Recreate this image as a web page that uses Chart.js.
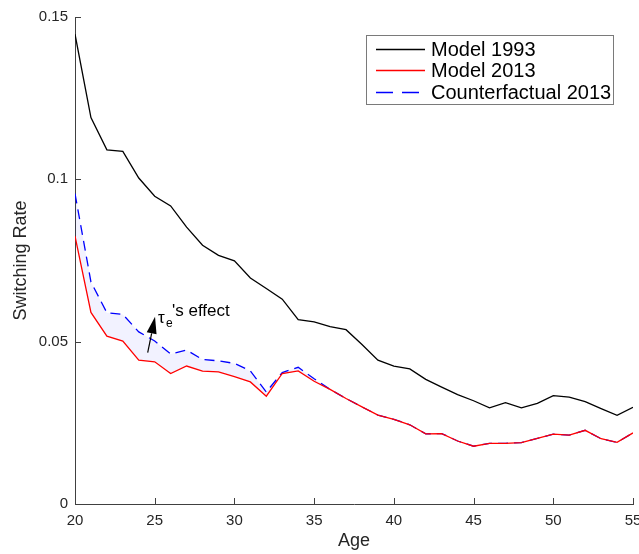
<!DOCTYPE html>
<html>
<head>
<meta charset="utf-8">
<script src="https://cdn.jsdelivr.net/npm/chart.js@4.4.1/dist/chart.umd.min.js"></script>
<style>
  html, body { margin: 0; padding: 0; background: #fff; }
  #wrap { width: 639px; height: 554px; }
</style>
</head>
<body>
<div id="wrap"><canvas id="switching"></canvas></div>
<script>
// ages on the x axis
const ages = [20, 21, 22, 23, 24, 25, 26, 27, 28, 29, 30, 31, 32, 33, 34, 35, 36, 37,
  38, 39, 40, 41, 42, 43, 44, 45, 46, 47, 48, 49, 50, 51, 52, 53, 54, 55];

const model1993 = [0.1447, 0.1190, 0.1091, 0.1086, 0.1004, 0.0948, 0.0918, 0.0853, 0.0797,
  0.0766, 0.0749, 0.0696, 0.0664, 0.0631, 0.0568, 0.0561, 0.0546, 0.0537, 0.0491, 0.0443,
  0.0425, 0.0416, 0.0384, 0.0360, 0.0337, 0.0318, 0.0296, 0.0312, 0.0296, 0.0310, 0.0334,
  0.0329, 0.0315, 0.0294, 0.0273, 0.0298];

const model2013 = [0.0825, 0.0590, 0.0517, 0.0502, 0.0443, 0.0438, 0.0402, 0.0425, 0.0409,
  0.0407, 0.0392, 0.0376, 0.0332, 0.0402, 0.0410, 0.0378, 0.0353, 0.0325, 0.0299, 0.0274,
  0.0261, 0.0244, 0.0216, 0.0217, 0.0194, 0.0178, 0.0187, 0.0187, 0.0189, 0.0202, 0.0215,
  0.0212, 0.0227, 0.0201, 0.0190, 0.0219];

const counterfactual2013 = [0.0956, 0.0684, 0.0589, 0.0584, 0.0530, 0.0502, 0.0462, 0.0474,
  0.0445, 0.0441, 0.0433, 0.0410, 0.0345, 0.0405, 0.0421, 0.0386, 0.0353, 0.0325, 0.0299,
  0.0274, 0.0261, 0.0244, 0.0216, 0.0217, 0.0194, 0.0178, 0.0187, 0.0187, 0.0189, 0.0202,
  0.0215, 0.0212, 0.0227, 0.0201, 0.0190, 0.0219];

const xTicks = [20, 25, 30, 35, 40, 45, 50, 55];
const yTicks = [0, 0.05, 0.1, 0.15];
const yTickLabels = ['0', '0.05', '0.1', '0.15'];

// arrow annotation (tail -> tip) in data units
const arrowFrom = { x: 24.56, y: 0.0466 };
const arrowTo = { x: 25.02, y: 0.0577 };

const FONT = "'Liberation Sans', Arial, sans-serif";
const AXIS_COLOR = '#404040';

function pts(vals) {
  return ages.map((a, i) => ({ x: a, y: vals[i] }));
}

// MATLAB style ticks pointing into the plot
const inwardTicks = {
  id: 'inwardTicks',
  afterDatasetsDraw(chart) {
    const { ctx, chartArea, scales } = chart;
    ctx.save();
    ctx.strokeStyle = AXIS_COLOR;
    ctx.lineWidth = 1;
    ctx.beginPath();
    xTicks.forEach(v => {
      const px = Math.round(scales.x.getPixelForValue(v)) + 0.5;
      ctx.moveTo(px, chartArea.bottom);
      ctx.lineTo(px, chartArea.bottom - 6);
    });
    yTicks.forEach(v => {
      const py = Math.round(scales.y.getPixelForValue(v)) + 0.5;
      ctx.moveTo(chartArea.left, py);
      ctx.lineTo(chartArea.left + 6, py);
    });
    ctx.stroke();
    ctx.restore();
  }
};

// arrow with the tau_e label
const effectArrow = {
  id: 'effectArrow',
  afterDatasetsDraw(chart) {
    const { ctx, scales } = chart;
    const x0 = scales.x.getPixelForValue(arrowFrom.x), y0 = scales.y.getPixelForValue(arrowFrom.y);
    const x1 = scales.x.getPixelForValue(arrowTo.x), y1 = scales.y.getPixelForValue(arrowTo.y);
    const ang = Math.atan2(y1 - y0, x1 - x0);
    const headLen = 17, headW = 5;
    const bx = x1 - headLen * Math.cos(ang), by = y1 - headLen * Math.sin(ang);
    ctx.save();
    ctx.strokeStyle = '#000';
    ctx.fillStyle = '#000';
    ctx.lineWidth = 1.2;
    ctx.beginPath();
    ctx.moveTo(x0, y0);
    ctx.lineTo(bx, by);
    ctx.stroke();
    ctx.beginPath();
    ctx.moveTo(x1, y1);
    ctx.lineTo(bx + headW * Math.sin(ang), by - headW * Math.cos(ang));
    ctx.lineTo(bx - headW * Math.sin(ang), by + headW * Math.cos(ang));
    ctx.closePath();
    ctx.fill();
    // label
    ctx.textBaseline = 'alphabetic';
    ctx.textAlign = 'left';
    ctx.font = '17px ' + FONT;
    ctx.fillText('\u03C4', x1 + 3, y1 + 6);
    ctx.font = '12px ' + FONT;
    ctx.fillText('e', x1 + 11, y1 + 10);
    ctx.font = '17px ' + FONT;
    ctx.fillText("'s effect", x1 + 17, y1 - 1);
    ctx.restore();
  }
};

// boxed legend in the upper right
const boxLegend = {
  id: 'boxLegend',
  afterDraw(chart) {
    const { ctx } = chart;
    const left = 366, top = 35, w = 247, h = 69;
    const rows = [49, 70, 92];
    const sampleDash = [[], [], [17, 9]];
    ctx.save();
    ctx.fillStyle = '#fff';
    ctx.fillRect(left, top, w, h);
    ctx.strokeStyle = '#7a7a7a';
    ctx.lineWidth = 1;
    ctx.strokeRect(left + 0.5, top + 0.5, w, h);
    chart.data.datasets.forEach((ds, i) => {
      ctx.strokeStyle = ds.borderColor;
      ctx.lineWidth = ds.borderWidth;
      ctx.setLineDash(sampleDash[i]);
      ctx.beginPath();
      ctx.moveTo(376, rows[i] + 0.5);
      ctx.lineTo(425, rows[i] + 0.5);
      ctx.stroke();
      ctx.setLineDash([]);
      ctx.fillStyle = '#000';
      ctx.font = '20px ' + FONT;
      ctx.textBaseline = 'middle';
      ctx.fillText(ds.label, 431, rows[i] + 1);
    });
    ctx.restore();
  }
};

new Chart(document.getElementById('switching'), {
  type: 'line',
  data: {
    datasets: [
      {
        label: 'Model 1993',
        data: pts(model1993),
        borderColor: '#000000',
        borderWidth: 1.3,
        pointRadius: 0,
        fill: false
      },
      {
        label: 'Model 2013',
        data: pts(model2013),
        borderColor: '#ff0000',
        borderWidth: 1.3,
        pointRadius: 0,
        fill: false
      },
      {
        label: 'Counterfactual 2013',
        data: pts(counterfactual2013),
        borderColor: '#0000ff',
        borderWidth: 1.3,
        borderDash: [10, 6],
        pointRadius: 0,
        fill: { target: 1, above: 'rgba(0,0,255,0.05)', below: 'rgba(0,0,255,0.05)' }
      }
    ]
  },
  options: {
    responsive: true,
    maintainAspectRatio: false,
    animation: false,
    layout: { padding: { top: 17, right: 6, left: 0, bottom: 0 } },
    elements: { line: { tension: 0 } },
    plugins: {
      legend: { display: false },
      tooltip: { enabled: false }
    },
    scales: {
      x: {
        type: 'linear',
        min: 20,
        max: 55,
        afterBuildTicks(scale) { scale.ticks = xTicks.map(v => ({ value: v })); },
        afterFit(scale) { scale.height = 50; scale.paddingLeft = 0; scale.paddingRight = 0; },
        ticks: {
          color: '#262626',
          padding: 8,
          maxRotation: 0,
          autoSkip: false,
          font: { family: FONT, size: 15 }
        },
        grid: { display: true, drawOnChartArea: false, drawTicks: false },
        border: { display: true, color: AXIS_COLOR, width: 1 },
        title: {
          display: true,
          text: 'Age',
          color: '#262626',
          font: { family: FONT, size: 18 },
          padding: { top: 0, bottom: 2 }
        }
      },
      y: {
        min: 0,
        max: 0.15,
        afterBuildTicks(scale) { scale.ticks = yTicks.map(v => ({ value: v })); },
        afterFit(scale) { scale.width = 75; scale.paddingTop = 0; scale.paddingBottom = 0; },
        ticks: {
          color: '#262626',
          padding: 7,
          autoSkip: false,
          font: { family: FONT, size: 15 },
          callback: (v) => yTickLabels[yTicks.indexOf(v)] ?? ''
        },
        grid: { display: true, drawOnChartArea: false, drawTicks: false },
        border: { display: true, color: AXIS_COLOR, width: 1 },
        title: {
          display: true,
          text: 'Switching Rate',
          color: '#262626',
          font: { family: FONT, size: 18 },
          padding: { top: 10, bottom: 0 }
        }
      }
    }
  },
  plugins: [inwardTicks, effectArrow, boxLegend]
});
</script>
</body>
</html>
